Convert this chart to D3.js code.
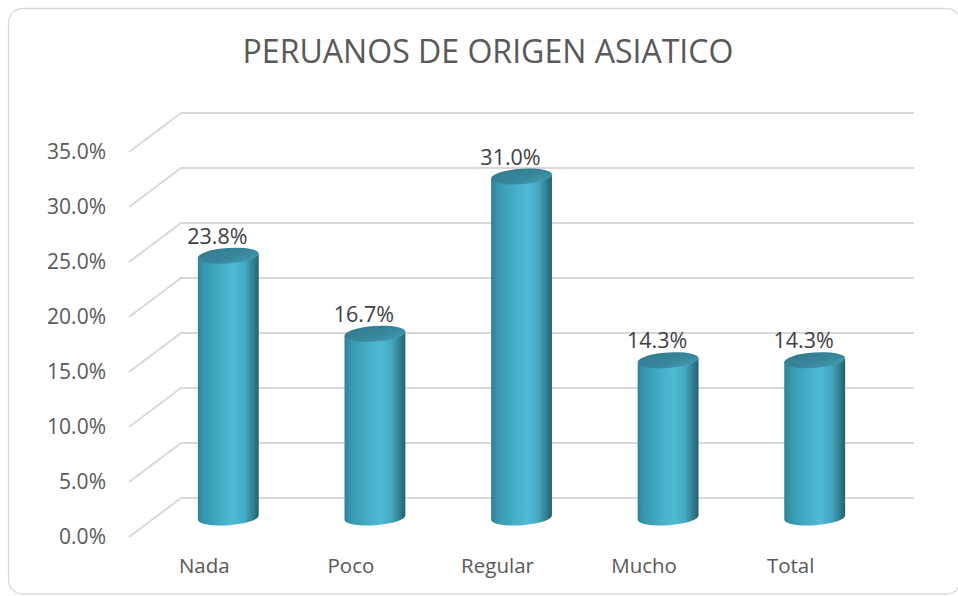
<!DOCTYPE html>
<html><head><meta charset="utf-8">
<script src="https://cdn.jsdelivr.net/npm/d3@7"></script>
<style>body{margin:0;background:#fff}svg{display:block}text{font-family:"Open Sans",sans-serif}</style>
</head><body>
<svg id="c" width="958" height="596"></svg>
<script>
const title = "PERUANOS DE ORIGEN ASIATICO";
const categories = ["Nada", "Poco", "Regular", "Mucho", "Total"];
const values = [23.8, 16.7, 31.0, 14.3, 14.3];
const yTicks = [0, 5, 10, 15, 20, 25, 30, 35];

const svg = d3.select("#c");
// depth offset of the 3D box (back wall relative to front plane)
const DX = 52, DY = -39;

svg.append("rect").attr("x", 8.5).attr("y", 8.5).attr("width", 952).attr("height", 585.5)
  .attr("rx", 14).attr("fill", "#fff").attr("stroke", "#d9d9d9").attr("stroke-width", 1.3);

const y = d3.scaleLinear().domain([0, 35]).range([537, 152]);
const x = d3.scaleBand().domain(categories).range([129, 862]);

const defs = svg.append("defs");
const g1 = defs.append("linearGradient").attr("id", "body").attr("x1", 0).attr("x2", 1).attr("y1", 0).attr("y2", 0);
[[0, "#2c8499"], [0.12, "#3799b1"], [0.45, "#48b2cc"], [0.6, "#4fbbd5"], [0.78, "#43a7c0"], [0.92, "#317a8c"], [1, "#265f6e"]]
  .forEach(s => g1.append("stop").attr("offset", s[0]).attr("stop-color", s[1]));
const g2 = defs.append("linearGradient").attr("id", "top").attr("x1", 0).attr("x2", 1).attr("y1", 0).attr("y2", 1);
[[0, "#317a8e"], [0.6, "#38879c"], [1, "#46a1b9"]]
  .forEach(s => g2.append("stop").attr("offset", s[0]).attr("stop-color", s[1]));

// gridlines: back wall + left side wall
const grid = svg.append("g").attr("stroke", "#d9d9d9").attr("stroke-width", 2).attr("fill", "none");
yTicks.forEach(t => {
  const yf = y(t);
  grid.append("path").attr("d", `M${x.range()[0]},${yf} L${x.range()[0] + DX},${yf + DY} L${x.range()[1] + DX},${yf + DY}`);
});

// y tick labels
svg.append("g").selectAll("text").data(yTicks).join("text")
  .attr("x", 106).attr("y", d => y(d)).attr("dy", "0.35em").attr("text-anchor", "end")
  .attr("font-size", 21).attr("fill", "#595959").text(d => d.toFixed(1) + "%");

// category labels (front plane)
svg.append("g").selectAll("text").data(categories).join("text")
  .attr("x", d => x(d) + x.bandwidth() / 2 + 2).attr("y", 566).attr("dy", "0.35em").attr("text-anchor", "middle")
  .attr("font-size", 20.5).attr("fill", "#595959").text(d => d);

// cylinders at mid-depth
const r = 30.5, ry = 7.8, th = -4;
const a = r * Math.cos(th * Math.PI / 180), b = -r * Math.sin(th * Math.PI / 180);
const bars = svg.append("g");
categories.forEach((c, i) => {
  const cx = x(c) + x.bandwidth() / 2 + DX / 2;
  const yB = y(0) + DY / 2, yT = y(values[i]) + DY / 2;
  bars.append("path").attr("fill", "url(#body)")
    .attr("d", `M${cx - a},${yT + b} L${cx - a},${yB + b} A${r},${ry} ${th} 0 0 ${cx + a},${yB - b} L${cx + a},${yT - b} Z`);
  bars.append("ellipse").attr("cx", cx).attr("cy", yT).attr("rx", r).attr("ry", ry)
    .attr("transform", `rotate(${th},${cx},${yT})`).attr("fill", "url(#top)");
  bars.append("text").attr("x", cx - 11).attr("y", yT - 12).attr("text-anchor", "middle")
    .attr("font-size", 21.5).attr("fill", "#404040").text(values[i].toFixed(1) + "%");
});

// title
const tt = svg.append("text").attr("x", 488).attr("y", 63).attr("text-anchor", "middle")
  .attr("font-size", 30).attr("fill", "#595959").text(title);
const w = tt.node().getComputedTextLength();
tt.attr("font-size", 30 * 491 / w);
</script>
</body></html>
